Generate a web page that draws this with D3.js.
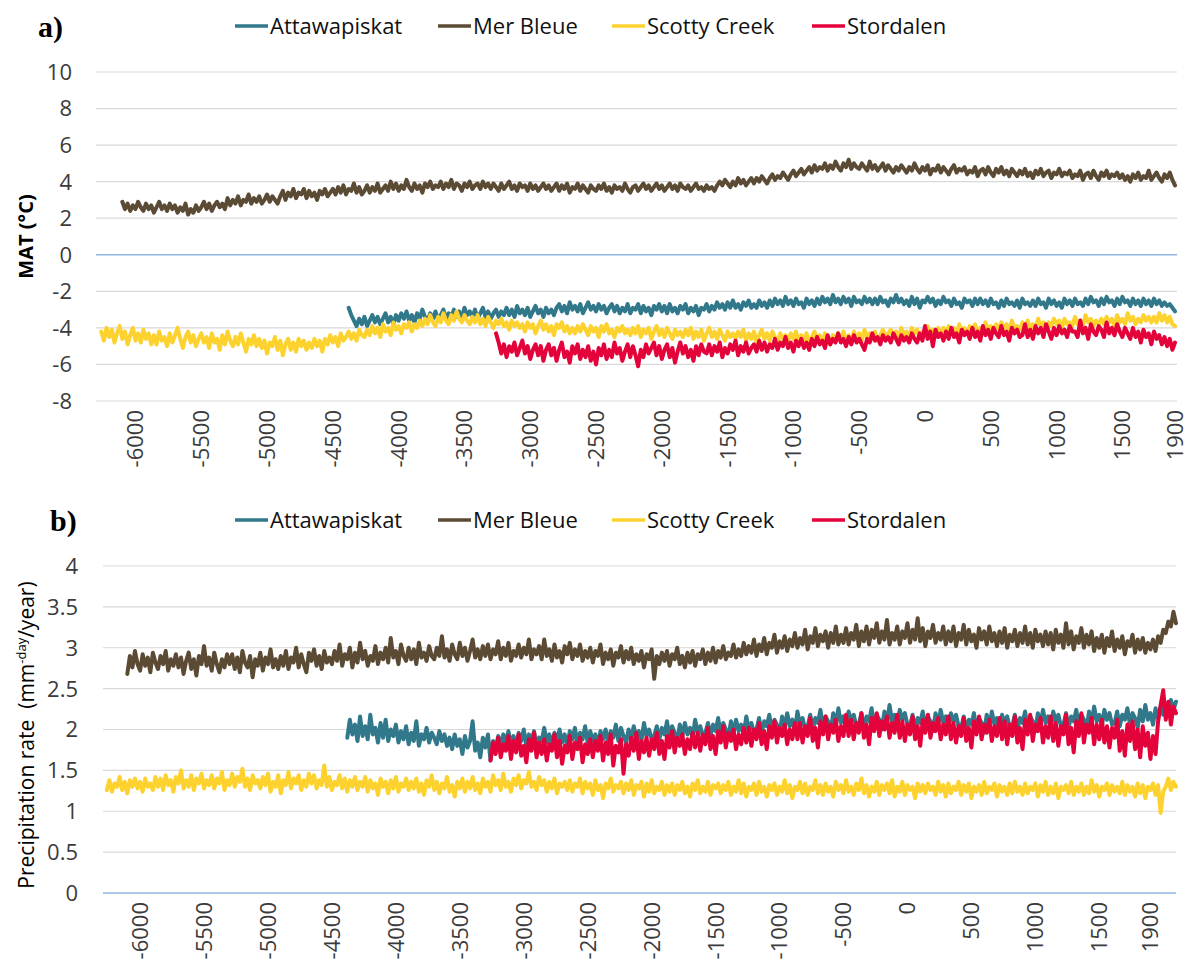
<!DOCTYPE html>
<html>
<head>
<meta charset="utf-8">
<script src="https://cdn.jsdelivr.net/npm/d3@7/dist/d3.min.js"></script>
<style>
  body { margin: 0; background: #ffffff; }
  text { font-family: "Open Sans", "Noto Sans", sans-serif; }
</style>
</head>
<body>
<svg id="chart" width="1192" height="965"></svg>
<script>
// ---- Sites, colours and tick labels ----
const sites = ["Attawapiskat", "Mer Bleue", "Scotty Creek", "Stordalen"];
const siteColors = ["#31788a", "#5b4b34", "#fdd22e", "#e4023a"];
const yearTicks = [-6000, -5500, -5000, -4500, -4000, -3500, -3000, -2500, -2000, -1500, -1000, -500, 0, 500, 1000, 1500, 1900];
const matTicks = [10, 8, 6, 4, 2, 0, -2, -4, -6, -8];
const precipTicks = [4, 3.5, 3, 2.5, 2, 1.5, 1, 0.5, 0];

// ---- Reconstructed series: one value every 20 years from each start year ----
const yearStep = 20;
const matStartYears = [-4380, -6100, -6260, -3260];
const precipStartYears = [-4380, -6100, -6260, -3260];

// Mean annual temperature (°C)
const matAttawapiskat = [
  -2.9, -3.3, -3.6, -3.9, -3.5, -3.8, -3.4, -3.9, -3.6, -3.3, -3.7, -3.4, -3.8, -3.5, -3.2, -3.7, -3.4, -3.8, -3.3, -3.6,
  -3.2, -3.5, -3.1, -3.6, -3.3, -3.7, -3.2, -3.5, -3.0, -3.4, -3.6, -3.2, -3.5, -3.1, -3.6, -3.3, -3.0, -3.5, -3.2, -3.4,
  -3.0, -3.4, -3.1, -3.5, -2.9, -3.3, -3.1, -3.4, -3.0, -3.5, -3.2, -2.9, -3.4, -3.1, -3.5, -3.2, -3.0, -3.4, -3.1, -3.3,
  -2.9, -3.3, -3.0, -3.4, -2.8, -3.2, -3.0, -3.3, -2.9, -3.4, -3.1, -2.8, -3.2, -3.0, -3.4, -2.9, -3.2, -3.0, -3.3, -2.9,
  -2.7, -3.1, -2.8, -3.2, -2.6, -3.0, -2.8, -3.1, -2.7, -3.2, -2.9, -2.6, -3.0, -2.8, -3.1, -2.7, -3.0, -2.8, -3.2, -2.9,
  -2.7, -3.1, -2.8, -3.2, -2.9, -3.1, -2.7, -3.2, -2.9, -3.0, -2.7, -3.2, -2.8, -3.1, -2.9, -3.3, -2.8, -3.0, -2.7, -3.1,
  -2.8, -3.2, -2.7, -3.1, -2.9, -3.2, -2.8, -3.0, -2.7, -3.2, -2.9, -3.1, -2.8, -3.3, -2.9, -3.0, -2.7, -3.1, -2.8, -3.0,
  -2.6, -2.9, -2.7, -3.0, -2.6, -2.9, -2.5, -2.9, -2.7, -3.0, -2.6, -2.8, -2.5, -2.9, -2.7, -2.9, -2.5, -2.8, -2.6, -2.9,
  -2.5, -2.8, -2.4, -2.7, -2.5, -2.8, -2.3, -2.7, -2.5, -2.8, -2.4, -2.7, -2.6, -2.9, -2.4, -2.7, -2.5, -2.8, -2.4, -2.7,
  -2.3, -2.6, -2.4, -2.7, -2.2, -2.6, -2.4, -2.7, -2.3, -2.6, -2.4, -2.8, -2.3, -2.6, -2.5, -2.7, -2.3, -2.6, -2.4, -2.7,
  -2.4, -2.7, -2.3, -2.6, -2.5, -2.8, -2.4, -2.6, -2.2, -2.6, -2.4, -2.7, -2.5, -2.8, -2.3, -2.7, -2.4, -2.9, -2.5, -2.6,
  -2.3, -2.6, -2.4, -2.8, -2.5, -2.7, -2.3, -2.6, -2.5, -2.8, -2.4, -2.7, -2.6, -2.9, -2.4, -2.6, -2.5, -2.8, -2.4, -2.7,
  -2.4, -2.7, -2.5, -2.8, -2.4, -2.7, -2.6, -2.9, -2.5, -2.8, -2.4, -2.7, -2.6, -2.8, -2.5, -2.9, -2.4, -2.7, -2.6, -2.8,
  -2.5, -2.8, -2.4, -2.7, -2.6, -2.9, -2.4, -2.7, -2.5, -2.8, -2.6, -2.9, -2.4, -2.7, -2.5, -2.8, -2.4, -2.7, -2.6, -2.8,
  -2.4, -2.7, -2.3, -2.6, -2.5, -2.8, -2.4, -2.7, -2.3, -2.6, -2.5, -2.8, -2.4, -2.7, -2.3, -2.6, -2.5, -2.8, -2.4, -2.7,
  -2.5, -2.8, -2.4, -2.7, -2.5, -2.8, -2.4, -2.7, -2.5, -2.8, -2.6, -2.8, -2.7, -2.9, -3.1
];
const matMerBleue = [
  2.9, 2.5, 2.8, 2.4, 2.7, 2.5, 2.9, 2.6, 2.4, 2.8, 2.5, 2.7, 2.3, 2.6, 2.9, 2.5, 2.7, 2.4, 2.8, 2.5,
  2.7, 2.3, 2.6, 2.4, 2.8, 2.2, 2.5, 2.3, 2.7, 2.4, 2.6, 2.9, 2.5, 2.8, 2.4, 2.7, 2.9, 2.6, 2.8, 2.5,
  3.1, 2.7, 3.0, 2.8, 3.2, 2.7, 3.0, 2.9, 3.3, 2.8, 3.1, 2.9, 3.2, 2.8, 3.0, 3.3, 2.9, 3.2, 3.0, 2.8,
  3.2, 3.5, 3.0, 3.4, 3.2, 3.6, 3.1, 3.4, 3.3, 3.6, 3.1, 3.5, 3.2, 3.4, 3.0, 3.5, 3.3, 3.6, 3.2, 3.4,
  3.6, 3.3, 3.7, 3.4, 3.8, 3.3, 3.6, 3.5, 3.9, 3.4, 3.7, 3.3, 3.5, 3.8, 3.4, 3.7, 3.5, 3.9, 3.4, 3.6,
  3.8, 3.5, 4.0, 3.6, 3.9, 3.5, 3.8, 3.6, 4.1, 3.7, 3.5, 3.9, 3.6, 3.8, 3.4, 3.9, 3.7, 4.0, 3.6, 3.8,
  3.7, 4.0, 3.6, 3.9, 3.7, 4.1, 3.6, 3.9, 3.8, 3.5, 3.9, 3.7, 4.0, 3.6, 3.8, 3.9, 3.6, 4.0, 3.7, 3.9,
  3.6, 3.9, 3.7, 3.5, 3.9, 3.6, 3.8, 4.0, 3.6, 3.8, 3.5, 3.9, 3.7, 3.8, 3.5, 3.9, 3.6, 3.8, 3.5, 3.7,
  3.9, 3.6, 3.8, 3.5, 3.7, 3.9, 3.5, 3.8, 3.6, 3.9, 3.4, 3.7, 3.6, 3.9, 3.5, 3.8, 3.6, 3.4, 3.8, 3.6,
  3.5, 3.8, 3.6, 3.9, 3.5, 3.7, 3.4, 3.8, 3.6, 3.7, 3.5, 3.9, 3.6, 3.4, 3.7, 3.8, 3.5, 3.7, 3.9, 3.6,
  3.8, 3.5, 3.7, 3.9, 3.6, 3.8, 3.5, 3.7, 3.9, 3.6, 3.8, 3.5, 3.9, 3.7, 3.6, 3.8, 3.5, 3.7, 3.9, 3.6,
  3.7, 3.5, 3.8, 3.6, 3.7, 3.5, 3.8, 4.0, 3.8, 4.1, 3.9, 3.7, 4.0, 3.8, 4.2, 3.9, 4.1, 3.8, 4.0, 4.2,
  3.9, 4.2, 4.0, 4.3, 4.1, 3.9, 4.2, 4.4, 4.1, 4.3, 4.2, 4.5, 4.3, 4.1, 4.4, 4.6, 4.3, 4.5, 4.7, 4.4,
  4.6, 4.8, 4.5, 4.9, 4.6, 4.8, 4.7, 5.0, 4.6, 4.9, 4.7, 5.1, 4.8, 4.6, 5.0, 4.8, 5.2, 4.7, 5.0, 4.8,
  4.7, 5.0, 4.8, 4.6, 5.1, 4.7, 4.9, 4.6, 4.8, 5.0, 4.6, 4.9, 4.7, 4.5, 4.8, 4.6, 4.9, 4.7, 4.5, 4.8,
  4.6, 5.0, 4.7, 4.5, 4.8, 4.6, 4.9, 4.4, 4.7, 4.6, 4.9, 4.5, 4.8, 4.6, 4.4, 4.7, 4.9, 4.5, 4.7, 4.6,
  4.8, 4.4, 4.6, 4.5, 4.8, 4.3, 4.6, 4.7, 4.4, 4.8, 4.5, 4.3, 4.7, 4.5, 4.8, 4.4, 4.6, 4.3, 4.7, 4.5,
  4.3, 4.6, 4.4, 4.7, 4.3, 4.5, 4.2, 4.6, 4.4, 4.7, 4.3, 4.5, 4.6, 4.2, 4.5, 4.4, 4.7, 4.3, 4.5, 4.4,
  4.6, 4.2, 4.4, 4.3, 4.6, 4.1, 4.4, 4.5, 4.2, 4.6, 4.3, 4.1, 4.5, 4.3, 4.6, 4.2, 4.4, 4.3, 4.5, 4.2,
  4.4, 4.1, 4.3, 4.0, 4.4, 4.2, 4.5, 4.1, 4.3, 4.2, 4.6, 4.1, 4.3, 4.5, 4.2, 4.0, 4.4, 4.2, 4.5, 4.1,
  3.8
];
const matScottyCreek = [
  -4.2, -4.7, -4.0, -4.5, -4.1, -4.8, -4.3, -3.9, -4.6, -4.2, -4.9, -4.4, -4.0, -4.7, -4.3, -4.8, -4.1, -4.6, -4.3, -4.9,
  -4.4, -4.9, -4.2, -4.7, -4.5, -5.0, -4.3, -4.8, -4.4, -4.0, -4.6, -5.1, -4.5, -4.2, -4.8, -4.4, -5.0, -4.6, -4.3, -4.8,
  -4.5, -5.1, -4.3, -4.8, -4.6, -5.2, -4.4, -4.9, -4.2, -4.7, -5.0, -4.5, -4.9, -4.3, -4.8, -5.3, -4.6, -4.9, -4.4, -5.0,
  -4.6, -5.1, -4.7, -5.4, -4.8, -5.0, -4.5, -5.2, -4.7, -5.5, -4.9, -4.6, -5.2, -4.8, -5.3, -4.6, -5.0, -4.7, -5.2, -4.8,
  -5.1, -4.6, -5.0, -4.7, -5.3, -4.6, -4.9, -4.4, -4.8, -4.5, -5.0, -4.3, -4.7, -4.5, -4.2, -4.6, -4.3, -4.7, -4.1, -4.4,
  -4.5, -4.1, -4.4, -3.9, -4.3, -4.0, -4.5, -3.8, -4.2, -4.0, -4.4, -3.7, -4.1, -3.9, -4.3, -3.8, -4.0, -3.7, -4.2, -3.8,
  -4.0, -3.6, -3.9, -3.5, -3.8, -3.3, -3.7, -3.9, -3.4, -3.7, -3.2, -3.6, -3.8, -3.3, -3.6, -3.1, -3.5, -3.7, -3.3, -3.6,
  -3.8, -3.4, -3.7, -3.3, -3.8, -3.5, -3.9, -3.4, -3.7, -4.0, -3.6, -3.8, -3.5, -3.9, -3.7, -4.1, -3.6, -3.9, -3.7, -4.0,
  -3.8, -4.2, -3.7, -4.0, -3.8, -4.3, -3.9, -3.6, -4.1, -3.8, -4.2, -3.9, -4.4, -3.8, -4.0, -3.7, -4.2, -3.9, -4.3, -4.0,
  -4.3, -3.9, -4.2, -3.8, -4.1, -4.4, -3.9, -4.2, -4.0, -4.5, -3.9, -4.2, -3.8, -4.3, -4.1, -4.5, -4.0, -4.2, -3.9, -4.3,
  -4.1, -4.4, -4.0, -4.3, -3.9, -4.5, -4.1, -4.3, -4.0, -4.6, -4.2, -3.9, -4.4, -4.1, -4.5, -4.0, -4.3, -4.6, -4.1, -4.4,
  -4.2, -4.5, -4.1, -4.4, -4.0, -4.6, -4.2, -4.5, -4.1, -4.7, -4.3, -4.0, -4.5, -4.2, -4.6, -4.1, -4.4, -4.7, -4.2, -4.5,
  -4.3, -4.6, -4.2, -4.5, -4.1, -4.7, -4.3, -4.6, -4.2, -4.8, -4.4, -4.1, -4.6, -4.3, -4.7, -4.2, -4.5, -4.8, -4.3, -4.6,
  -4.4, -4.7, -4.3, -4.6, -4.2, -4.8, -4.4, -4.7, -4.3, -4.9, -4.5, -4.2, -4.7, -4.4, -4.8, -4.3, -4.6, -4.9, -4.4, -4.7,
  -4.3, -4.6, -4.2, -4.7, -4.4, -4.8, -4.2, -4.6, -4.3, -4.7, -4.1, -4.5, -4.3, -4.6, -4.2, -4.7, -4.4, -4.1, -4.5, -4.3,
  -4.1, -4.5, -4.2, -4.6, -4.0, -4.4, -4.2, -4.5, -4.0, -4.3, -4.1, -4.6, -4.2, -4.4, -3.9, -4.3, -4.1, -4.5, -4.0, -4.3,
  -4.0, -4.3, -3.9, -4.2, -4.0, -4.4, -3.8, -4.2, -4.0, -4.3, -3.9, -4.1, -3.8, -4.3, -4.0, -4.2, -3.7, -4.1, -3.9, -4.2,
  -3.8, -4.1, -3.7, -4.0, -3.8, -4.2, -3.6, -4.0, -3.9, -4.1, -3.7, -3.9, -3.6, -4.1, -3.8, -4.0, -3.5, -3.9, -3.7, -4.0,
  -3.7, -3.9, -3.5, -3.8, -3.6, -4.0, -3.5, -3.8, -3.7, -3.9, -3.4, -3.8, -3.6, -3.9, -3.3, -3.7, -3.5, -3.9, -3.6, -3.8,
  -3.5, -3.8, -3.4, -3.7, -3.5, -3.9, -3.3, -3.7, -3.5, -3.8, -3.2, -3.6, -3.4, -3.8, -3.5, -3.7, -3.3, -3.6, -3.4, -3.7,
  -3.4, -3.7, -3.2, -3.6, -3.3, -3.7, -3.4, -3.8, -3.9
];
const matStordalen = [
  -4.3, -4.8, -5.4, -4.9, -5.6, -5.0, -5.3, -4.8, -5.5, -5.1, -4.7, -5.4, -5.0, -5.7, -5.2, -4.9, -5.5, -5.0, -5.8, -5.2,
  -4.9, -5.5, -5.1, -5.8, -5.2, -4.8, -5.6, -5.3, -5.9, -5.0, -5.4, -4.9, -5.7, -5.2, -5.6, -5.0, -5.8, -5.3, -6.0, -5.1,
  -5.5, -4.9, -5.7, -5.2, -5.6, -4.8, -5.4, -5.1, -5.8, -5.3, -4.9, -5.6, -5.0, -5.5, -6.1, -5.2, -5.6, -4.9, -5.4, -5.1,
  -4.8, -5.5, -5.0, -5.7, -5.2, -4.9, -5.6, -5.1, -5.9, -5.3, -4.8, -5.4, -5.0, -5.6, -5.2, -5.8, -5.0, -5.5, -4.9, -5.3,
  -5.4, -4.9, -5.5, -5.0, -5.3, -4.8, -5.6, -5.1, -5.4, -4.9, -5.2, -4.7, -5.5, -5.0, -5.3, -4.8, -5.4, -5.1, -4.9, -5.3,
  -4.7, -5.2, -4.8, -5.3, -4.9, -5.1, -4.6, -5.2, -4.8, -5.0, -4.5, -5.1, -4.8, -5.3, -4.7, -5.0, -4.6, -5.1, -4.8, -5.2,
  -4.6, -5.0, -4.5, -4.9, -4.7, -5.1, -4.4, -4.9, -4.6, -4.8, -4.3, -4.8, -4.6, -5.0, -4.5, -4.9, -4.4, -4.8, -4.6, -4.9,
  -5.2, -4.6, -4.8, -4.3, -4.7, -4.5, -4.9, -4.4, -4.7, -4.5, -4.8, -4.3, -4.6, -4.9, -4.4, -4.7, -4.5, -4.8, -4.3, -4.6,
  -4.8, -4.3, -4.7, -3.9, -4.6, -4.2, -5.0, -4.1, -4.5, -4.3, -4.7, -4.2, -4.6, -4.0, -4.5, -4.3, -4.8, -4.1, -4.4, -4.2,
  -4.6, -4.0, -4.5, -4.2, -4.7, -3.9, -4.4, -4.1, -4.6, -4.0, -4.3, -4.5, -3.9, -4.4, -4.2, -4.7, -4.0, -4.3, -4.1, -4.5,
  -4.4, -3.8, -4.5, -4.1, -4.6, -3.9, -4.3, -4.0, -4.5, -3.8, -4.2, -4.6, -4.0, -4.4, -3.9, -4.3, -4.1, -4.5, -3.9, -4.2,
  -4.2, -4.5, -3.6, -4.3, -4.0, -4.6, -3.8, -4.2, -4.4, -3.9, -4.1, -4.5, -3.7, -4.3, -4.0, -4.4, -3.8, -4.2, -4.5, -4.0,
  -4.3, -4.6, -4.0, -4.5, -4.2, -4.8, -4.1, -4.5, -4.3, -4.9, -4.2, -4.6, -4.4, -4.9, -4.5, -5.0, -4.6, -5.2, -4.8
];

// Precipitation rate (mm/day per year)
const precipAttawapiskat = [
  1.90, 2.12, 1.94, 2.06, 1.86, 2.16, 1.92, 2.04, 1.88, 2.18, 1.94, 2.02, 1.84, 2.08, 1.90, 2.12, 1.86, 2.00, 1.92, 2.06,
  1.84, 1.98, 1.88, 2.04, 1.82, 1.96, 1.86, 2.10, 1.80, 1.94, 1.88, 2.02, 1.84, 1.96, 1.90, 1.82, 1.98, 1.86, 1.94, 1.80,
  1.90, 1.76, 1.94, 1.80, 1.88, 1.70, 1.92, 1.78, 1.86, 2.10, 1.74, 1.84, 1.66, 1.90, 1.78, 1.94, 1.62, 1.86, 1.76, 1.92,
  1.80, 1.94, 1.84, 1.98, 1.82, 1.92, 1.78, 1.96, 1.86, 2.00, 1.80, 1.94, 1.84, 1.98, 1.82, 1.90, 1.86, 2.02, 1.84, 1.94,
  1.82, 1.96, 1.86, 2.00, 1.84, 1.94, 1.80, 1.98, 1.88, 2.02, 1.82, 1.96, 1.88, 2.04, 1.84, 1.98, 1.86, 1.94, 1.80, 1.98,
  1.88, 2.00, 1.84, 1.98, 1.90, 2.06, 1.86, 2.02, 1.92, 1.84, 2.00, 1.88, 2.04, 1.90, 1.98, 1.86, 2.08, 1.92, 2.00, 1.88,
  1.92, 2.04, 1.88, 2.02, 1.94, 2.10, 1.90, 2.04, 1.96, 1.86, 2.06, 1.92, 2.08, 1.94, 2.02, 1.90, 2.12, 1.96, 2.04, 1.92,
  1.96, 2.08, 1.92, 2.06, 1.98, 2.14, 1.94, 2.08, 2.00, 1.90, 2.10, 1.96, 2.12, 1.98, 2.06, 1.94, 2.16, 2.00, 2.08, 1.96,
  2.00, 2.14, 1.96, 2.10, 2.04, 2.18, 1.98, 2.12, 2.06, 1.94, 2.16, 2.02, 2.20, 2.04, 2.12, 1.98, 2.22, 2.06, 2.14, 2.00,
  2.04, 2.18, 2.00, 2.14, 2.08, 2.24, 2.02, 2.16, 2.10, 1.98, 2.20, 2.06, 2.26, 2.08, 2.16, 2.02, 2.22, 2.10, 2.18, 2.04,
  2.06, 2.20, 2.02, 2.16, 2.10, 2.26, 2.04, 2.18, 2.12, 2.00, 2.22, 2.08, 2.30, 2.10, 2.18, 2.04, 2.24, 2.12, 2.20, 2.06,
  2.04, 2.18, 2.00, 2.14, 2.08, 2.22, 2.02, 2.16, 2.10, 1.98, 2.20, 2.06, 2.24, 2.08, 2.16, 2.02, 2.20, 2.10, 2.18, 2.04,
  2.02, 2.16, 1.98, 2.12, 2.06, 2.20, 2.00, 2.14, 2.08, 1.96, 2.18, 2.04, 2.22, 2.06, 2.14, 2.00, 2.18, 2.08, 2.16, 2.02,
  2.04, 2.18, 2.00, 2.14, 2.08, 2.22, 2.02, 2.16, 2.10, 1.98, 2.20, 2.06, 2.24, 2.08, 2.16, 2.02, 2.22, 2.10, 2.18, 2.04,
  2.06, 2.20, 2.02, 2.16, 2.10, 2.24, 2.04, 2.18, 2.12, 2.00, 2.22, 2.08, 2.28, 2.10, 2.18, 2.04, 2.24, 2.12, 2.20, 2.06,
  2.08, 2.22, 2.04, 2.18, 2.12, 2.26, 2.06, 2.20, 2.14, 2.02, 2.24, 2.10, 2.30, 2.12, 2.20, 2.06, 2.26, 2.14, 2.28, 2.18,
  2.30, 2.20, 2.36, 2.24, 2.34
];
const precipMerBleue = [
  2.68, 2.90, 2.76, 2.96, 2.80, 2.72, 2.92, 2.78, 2.88, 2.70, 2.94, 2.82, 2.74, 2.90, 2.80, 2.96, 2.72, 2.86, 2.78, 2.92,
  2.76, 2.88, 2.68, 2.84, 2.94, 2.74, 2.86, 2.66, 2.90, 2.80, 3.02, 2.78, 2.88, 2.72, 2.94, 2.80, 2.70, 2.86, 2.76, 2.92,
  2.80, 2.92, 2.74, 2.88, 2.70, 2.96, 2.82, 2.76, 2.90, 2.64, 2.86, 2.78, 2.94, 2.72, 2.88, 2.80, 2.98, 2.76, 2.86, 2.74,
  2.90, 2.78, 2.96, 2.74, 2.88, 2.82, 3.00, 2.76, 2.92, 2.80, 2.70, 2.94, 2.84, 2.98, 2.78, 2.90, 2.74, 2.96, 2.82, 2.88,
  2.80, 2.96, 2.84, 3.04, 2.78, 2.92, 2.86, 3.00, 2.76, 2.94, 2.82, 3.06, 2.86, 2.96, 2.78, 2.90, 2.84, 3.02, 2.80, 2.94,
  2.86, 3.00, 2.82, 3.12, 2.88, 2.96, 2.80, 3.04, 2.90, 2.84, 3.00, 2.86, 2.98, 2.80, 3.06, 2.88, 2.94, 2.84, 3.02, 2.90,
  2.86, 3.00, 2.90, 3.14, 2.88, 2.98, 2.84, 3.04, 2.92, 2.86, 3.06, 2.90, 3.00, 2.84, 2.96, 3.10, 2.88, 2.98, 2.86, 3.02,
  2.90, 3.04, 2.86, 2.98, 2.92, 3.08, 2.86, 3.00, 2.90, 3.06, 2.84, 2.96, 2.90, 3.04, 2.88, 3.00, 2.92, 3.10, 2.86, 2.98,
  2.92, 3.02, 2.86, 3.10, 2.90, 2.98, 2.84, 3.04, 2.88, 2.96, 2.82, 3.02, 2.92, 3.06, 2.86, 2.98, 2.90, 3.04, 2.84, 2.96,
  2.88, 3.00, 2.82, 2.96, 2.90, 3.04, 2.80, 2.94, 2.86, 2.98, 2.78, 2.94, 2.88, 3.02, 2.82, 2.96, 2.86, 3.00, 2.80, 2.92,
  2.84, 2.96, 2.76, 2.92, 2.86, 2.98, 2.62, 2.90, 2.80, 2.94, 2.84, 2.96, 2.78, 2.92, 2.86, 3.00, 2.80, 2.90, 2.76, 2.94,
  2.82, 2.96, 2.78, 2.92, 2.86, 2.98, 2.80, 2.94, 2.84, 3.00, 2.82, 2.96, 2.88, 3.02, 2.86, 2.94, 2.90, 3.04, 2.88, 2.98,
  2.90, 3.06, 2.92, 3.02, 2.94, 3.10, 2.90, 3.04, 2.96, 3.12, 2.92, 3.06, 3.00, 3.16, 2.94, 3.08, 3.00, 3.14, 2.96, 3.10,
  3.02, 3.18, 3.00, 3.12, 3.04, 3.22, 2.98, 3.14, 3.06, 3.24, 3.02, 3.16, 3.08, 3.20, 3.00, 3.18, 3.06, 3.26, 3.04, 3.16,
  3.06, 3.24, 3.04, 3.18, 3.10, 3.28, 3.02, 3.20, 3.08, 3.26, 3.04, 3.22, 3.12, 3.30, 3.06, 3.20, 3.10, 3.34, 3.04, 3.18,
  3.10, 3.26, 3.04, 3.20, 3.12, 3.30, 3.06, 3.22, 3.10, 3.36, 3.08, 3.24, 3.02, 3.20, 3.12, 3.28, 3.06, 3.18, 3.10, 3.26,
  3.04, 3.20, 3.08, 3.26, 3.02, 3.18, 3.10, 3.28, 3.04, 3.22, 3.08, 3.16, 3.00, 3.24, 3.10, 3.20, 3.04, 3.26, 3.08, 3.18,
  3.02, 3.20, 3.06, 3.24, 3.00, 3.16, 3.08, 3.22, 3.02, 3.18, 3.06, 3.26, 3.04, 3.18, 3.00, 3.22, 3.08, 3.16, 3.02, 3.20,
  3.04, 3.18, 2.98, 3.22, 3.06, 3.16, 3.00, 3.30, 3.04, 3.20, 2.98, 3.14, 3.06, 3.24, 3.00, 3.16, 3.04, 3.20, 2.96, 3.12,
  3.00, 3.16, 2.94, 3.12, 3.02, 3.20, 2.96, 3.10, 3.00, 3.14, 2.92, 3.08, 3.02, 3.16, 2.94, 3.10, 2.98, 3.12, 2.94, 3.06,
  2.98, 3.10, 2.96, 3.14, 3.06, 3.22, 3.18, 3.32, 3.26, 3.44, 3.30
];
const precipScottyCreek = [
  1.26, 1.38, 1.24, 1.34, 1.30, 1.42, 1.26, 1.36, 1.22, 1.38, 1.30, 1.40, 1.28, 1.36, 1.24, 1.40, 1.30, 1.34, 1.26, 1.42,
  1.30, 1.40, 1.26, 1.44, 1.32, 1.38, 1.24, 1.42, 1.34, 1.50, 1.28, 1.38, 1.30, 1.44, 1.26, 1.40, 1.34, 1.46, 1.28, 1.38,
  1.32, 1.44, 1.28, 1.40, 1.34, 1.48, 1.26, 1.38, 1.32, 1.46, 1.30, 1.42, 1.36, 1.52, 1.30, 1.40, 1.26, 1.44, 1.34, 1.38,
  1.28, 1.42, 1.32, 1.46, 1.24, 1.36, 1.30, 1.44, 1.22, 1.38, 1.32, 1.48, 1.28, 1.40, 1.34, 1.44, 1.26, 1.38, 1.30, 1.46,
  1.34, 1.44, 1.28, 1.38, 1.32, 1.56, 1.30, 1.42, 1.26, 1.36, 1.32, 1.44, 1.28, 1.40, 1.24, 1.38, 1.30, 1.42, 1.26, 1.36,
  1.30, 1.42, 1.24, 1.38, 1.28, 1.34, 1.20, 1.40, 1.30, 1.36, 1.22, 1.38, 1.28, 1.42, 1.24, 1.34, 1.30, 1.40, 1.26, 1.36,
  1.28, 1.40, 1.24, 1.34, 1.20, 1.38, 1.30, 1.44, 1.26, 1.36, 1.22, 1.34, 1.28, 1.42, 1.24, 1.32, 1.18, 1.36, 1.28, 1.40,
  1.24, 1.36, 1.28, 1.42, 1.26, 1.34, 1.22, 1.40, 1.30, 1.36, 1.24, 1.44, 1.32, 1.38, 1.26, 1.46, 1.30, 1.36, 1.24, 1.40,
  1.32, 1.44, 1.28, 1.38, 1.34, 1.48, 1.30, 1.36, 1.26, 1.42, 1.32, 1.38, 1.24, 1.36, 1.28, 1.40, 1.22, 1.34, 1.30, 1.36,
  1.26, 1.38, 1.24, 1.34, 1.30, 1.40, 1.22, 1.36, 1.28, 1.34, 1.20, 1.38, 1.26, 1.32, 1.16, 1.34, 1.28, 1.40, 1.24, 1.32,
  1.28, 1.36, 1.22, 1.34, 1.26, 1.38, 1.20, 1.32, 1.28, 1.36, 1.18, 1.34, 1.24, 1.38, 1.22, 1.30, 1.26, 1.36, 1.20, 1.32,
  1.24, 1.34, 1.20, 1.32, 1.26, 1.36, 1.22, 1.30, 1.18, 1.34, 1.26, 1.38, 1.22, 1.30, 1.24, 1.36, 1.20, 1.32, 1.28, 1.34,
  1.22, 1.32, 1.26, 1.36, 1.20, 1.30, 1.24, 1.38, 1.22, 1.34, 1.18, 1.30, 1.26, 1.34, 1.20, 1.36, 1.24, 1.30, 1.18, 1.32,
  1.26, 1.34, 1.20, 1.30, 1.24, 1.38, 1.22, 1.32, 1.16, 1.30, 1.26, 1.36, 1.22, 1.34, 1.20, 1.30, 1.26, 1.38, 1.22, 1.32,
  1.20, 1.34, 1.24, 1.30, 1.18, 1.36, 1.26, 1.32, 1.22, 1.38, 1.24, 1.30, 1.20, 1.34, 1.26, 1.40, 1.22, 1.32, 1.18, 1.30,
  1.24, 1.36, 1.20, 1.32, 1.26, 1.34, 1.22, 1.38, 1.18, 1.30, 1.24, 1.36, 1.20, 1.32, 1.26, 1.30, 1.16, 1.34, 1.24, 1.32,
  1.22, 1.34, 1.26, 1.30, 1.20, 1.36, 1.24, 1.32, 1.18, 1.34, 1.22, 1.30, 1.26, 1.36, 1.20, 1.32, 1.24, 1.34, 1.16, 1.30,
  1.24, 1.32, 1.20, 1.36, 1.22, 1.30, 1.26, 1.34, 1.18, 1.32, 1.24, 1.30, 1.20, 1.34, 1.22, 1.36, 1.24, 1.30, 1.20, 1.34,
  1.22, 1.30, 1.26, 1.34, 1.18, 1.32, 1.24, 1.36, 1.20, 1.30, 1.22, 1.34, 1.16, 1.30, 1.26, 1.32, 1.22, 1.36, 1.20, 1.30,
  1.24, 1.34, 1.20, 1.30, 1.22, 1.38, 1.24, 1.32, 1.18, 1.30, 1.26, 1.34, 1.20, 1.32, 1.24, 1.30, 1.22, 1.36, 1.20, 1.32,
  1.24, 1.30, 1.18, 1.34, 1.22, 1.32, 1.16, 1.30, 1.26, 1.34, 1.20, 1.32, 0.98, 1.24, 1.30, 1.40, 1.26, 1.36, 1.30
];
const precipStordalen = [
  1.62, 1.84, 1.70, 1.90, 1.66, 1.82, 1.74, 1.92, 1.64, 1.86, 1.72, 1.94, 1.68, 1.80, 1.60, 1.88, 1.74, 1.96, 1.66, 1.84,
  1.70, 1.88, 1.62, 1.82, 1.74, 1.94, 1.66, 1.86, 1.58, 1.80, 1.72, 1.92, 1.64, 1.84, 1.76, 1.90, 1.60, 1.82, 1.70, 1.88,
  1.66, 1.86, 1.74, 1.92, 1.62, 1.84, 1.70, 1.94, 1.56, 1.80, 1.72, 1.88, 1.46, 1.82, 1.68, 1.90, 1.74, 1.96, 1.64, 1.86,
  1.72, 1.90, 1.68, 1.88, 1.76, 1.96, 1.70, 1.86, 1.64, 1.92, 1.78, 1.98, 1.72, 1.90, 1.80, 1.94, 1.70, 1.88, 1.76, 1.96,
  1.78, 1.96, 1.74, 1.94, 1.82, 2.02, 1.76, 1.92, 1.70, 1.98, 1.84, 2.04, 1.78, 1.96, 1.86, 2.00, 1.76, 1.94, 1.82, 2.02,
  1.84, 2.02, 1.80, 2.00, 1.88, 2.08, 1.82, 1.98, 1.76, 2.04, 1.90, 2.10, 1.84, 2.02, 1.92, 2.06, 1.82, 2.00, 1.88, 2.08,
  1.88, 2.08, 1.84, 2.04, 1.92, 2.14, 1.86, 2.02, 1.78, 2.10, 1.94, 2.16, 1.88, 2.06, 1.96, 2.12, 1.86, 2.04, 1.92, 2.18,
  1.92, 2.12, 1.88, 2.08, 1.96, 2.20, 1.90, 2.06, 1.82, 2.14, 1.98, 2.20, 1.92, 2.10, 2.00, 2.16, 1.90, 2.08, 1.96, 2.18,
  1.90, 2.10, 1.86, 2.06, 1.94, 2.16, 1.88, 2.04, 1.80, 2.12, 1.96, 2.18, 1.90, 2.08, 1.98, 2.14, 1.88, 2.06, 1.94, 2.16,
  1.88, 2.08, 1.84, 2.04, 1.92, 2.14, 1.86, 2.02, 1.78, 2.10, 1.94, 2.16, 1.88, 2.06, 1.96, 2.12, 1.86, 2.04, 1.92, 2.14,
  1.88, 2.10, 1.82, 2.06, 1.92, 2.16, 1.84, 2.02, 1.76, 2.12, 1.94, 2.18, 1.86, 2.06, 1.98, 2.14, 1.84, 2.04, 1.90, 2.16,
  1.86, 2.08, 1.80, 2.04, 1.94, 2.18, 1.82, 2.02, 1.72, 2.10, 1.92, 2.20, 1.84, 2.06, 1.96, 2.14, 1.82, 2.06, 1.88, 2.12,
  1.84, 2.04, 1.78, 2.02, 1.90, 2.12, 1.74, 1.98, 1.68, 2.06, 1.86, 2.10, 1.76, 2.00, 1.66, 2.04, 1.80, 1.96, 1.64, 1.92,
  1.70, 2.10, 2.30, 2.48, 2.12, 2.34, 2.06, 2.28, 2.20
];

const matSeries = [matAttawapiskat, matMerBleue, matScottyCreek, matStordalen];
const precipSeries = [precipAttawapiskat, precipMerBleue, precipScottyCreek, precipStordalen];

// ---- Drawing ----
const svg = d3.select("#chart");

const panels = [
  {
    id: "a", tag: "a)", tagX: 38, tagY: 37, legendY: 26,
    x: d3.scaleLinear().domain([-6300, 1915]).range([96, 1177]),
    y: d3.scaleLinear().domain([-8, 10]).range([401, 72]),
    ticks: matTicks, labelX: 72,
    starts: matStartYears, series: matSeries
  },
  {
    id: "b", tag: "b)", tagX: 50, tagY: 531, legendY: 520,
    x: d3.scaleLinear().domain([-6290, 2100]).range([103, 1176]),
    y: d3.scaleLinear().domain([0, 4]).range([893, 566]),
    ticks: precipTicks, labelX: 78,
    starts: precipStartYears, series: precipSeries
  }
];

const legendX = [235, 438, 612, 812];

panels.forEach(p => {
  const g = svg.append("g").attr("class", "panel-" + p.id);
  const [x0, x1] = p.x.range();
  const [yb, yt] = p.y.range();

  // panel tag
  g.append("text").attr("x", p.tagX).attr("y", p.tagY)
    .style("font-family", "'Liberation Serif', 'Times New Roman', serif")
    .attr("font-size", 30).attr("font-weight", "bold").text(p.tag);

  // legend
  const lg = g.append("g");
  sites.forEach((s, i) => {
    lg.append("line").attr("x1", legendX[i]).attr("x2", legendX[i] + 33)
      .attr("y1", p.legendY).attr("y2", p.legendY)
      .attr("stroke", siteColors[i]).attr("stroke-width", 3.5);
    lg.append("text").attr("x", legendX[i] + 35).attr("y", p.legendY)
      .attr("dy", "0.36em").attr("font-size", 22).attr("fill", "#111")
      .text(s);
  });

  // horizontal gridlines, zero line in blue
  g.append("g").selectAll("line").data(p.ticks).join("line")
    .attr("x1", x0).attr("x2", x1)
    .attr("y1", d => p.y(d)).attr("y2", d => p.y(d))
    .attr("stroke", d => d === 0 ? "#8fb6e0" : "#d9d9d9")
    .attr("stroke-width", d => d === 0 ? 1.6 : 1.2);

  // y tick labels
  g.append("g").selectAll("text").data(p.ticks).join("text")
    .attr("x", p.labelX).attr("y", d => p.y(d)).attr("dy", "0.36em")
    .attr("text-anchor", "end").attr("font-size", 22).attr("fill", "#3b3b3b")
    .text(d => String(d));

  // x tick labels, rotated
  g.append("g").selectAll("text").data(yearTicks).join("text")
    .attr("transform", d => `translate(${p.x(d)},${yb + 9}) rotate(-90)`)
    .attr("dy", "0.36em").attr("text-anchor", "end")
    .attr("font-size", 22).attr("fill", "#3b3b3b")
    .text(d => String(d));

  // series
  const clipId = "clip-" + p.id;
  svg.append("clipPath").attr("id", clipId).append("rect")
    .attr("x", x0).attr("y", yt - 5).attr("width", x1 - x0 + 2).attr("height", yb - yt + 10);
  const line = d3.line().x(d => p.x(d[0])).y(d => p.y(d[1]));
  const lines = g.append("g").attr("clip-path", `url(#${clipId})`);
  p.series.forEach((vals, i) => {
    const pts = vals.map((v, k) => [p.starts[i] + k * yearStep, v]);
    lines.append("path").datum(pts)
      .attr("d", line).attr("fill", "none")
      .attr("stroke", siteColors[i]).attr("stroke-width", 4)
      .attr("stroke-linejoin", "round").attr("stroke-linecap", "round");
  });
});

// axis titles
svg.append("text")
  .attr("transform", `translate(33,${(401 + 72) / 2}) rotate(-90)`)
  .attr("text-anchor", "middle").attr("font-size", 20).attr("font-weight", "bold")
  .text("MAT (°C)");

const pt = svg.append("text")
  .attr("transform", `translate(34,735) rotate(-90)`)
  .attr("text-anchor", "middle").attr("font-size", 21)
  .style("white-space", "pre");
pt.append("tspan").text("Precipitation rate  (mm");
pt.append("tspan").attr("font-size", 13).attr("dy", -8).text("-day");
pt.append("tspan").attr("dy", 8).text("/year)");
</script>
</body>
</html>
